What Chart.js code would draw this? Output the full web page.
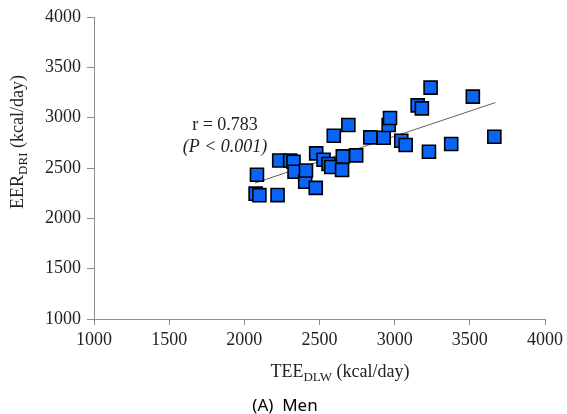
<!DOCTYPE html>
<html>
<head>
<meta charset="utf-8">
<script src="https://cdn.jsdelivr.net/npm/chart.js@4.4.1/dist/chart.umd.min.js"></script>
<style>
  html, body { margin: 0; padding: 0; background: #fff; }
  #wrap { width: 567px; height: 414px; }
</style>
</head>
<body>
<div id="wrap"><canvas id="chart" width="567" height="414"></canvas></div>
<script>
// TEE (DLW) vs EER (DRI), men
const teeDLW = [2084, 2075, 2100, 2221, 2232, 2305, 2327, 2334, 2405, 2410, 2475, 2478, 2527, 2560, 2578, 2655, 2650, 2744,
                2595, 2692, 2838, 2927, 2960, 2969, 3044, 3073, 3153, 3181, 3239, 3228, 3376, 3520, 3663];
const eerDRI = [2433, 2245, 2230, 2231, 2575, 2575, 2562, 2463, 2363, 2475, 2303, 2645, 2582, 2540, 2510, 2615, 2480, 2625,
                2820, 2927, 2804, 2801, 2927, 2997, 2771, 2728, 3122, 3092, 3298, 2662, 2738, 3209, 2811];

// trend line end points
const trendX = [2070, 3670];
const trendY = [2350, 3150];

const axisMin = 1000;
const axisMax = 4000;
const axisStep = 500;

const points = teeDLW.map((x, i) => ({ x: x, y: eerDRI[i] }));
const trend = trendX.map((x, i) => ({ x: x, y: trendY[i] }));

const serif = '"Liberation Serif", "Times New Roman", serif';

// axis titles with subscripts, r annotation and panel label
const textPlugin = {
    id: 'texts',
    afterDraw(chart) {
        const ctx = chart.ctx;
        const drawSub = (parts, cx, cy) => {
            // parts: [text, isSub]
            let w = 0;
            parts.forEach(p => {
                ctx.font = (p[1] ? '13px ' : '18px ') + serif;
                w += ctx.measureText(p[0]).width;
            });
            let x = cx - w / 2;
            parts.forEach(p => {
                ctx.font = (p[1] ? '13px ' : '18px ') + serif;
                ctx.fillText(p[0], x, p[1] ? cy + 4 : cy);
                x += ctx.measureText(p[0]).width;
            });
        };
        ctx.save();
        ctx.fillStyle = '#222';
        ctx.textBaseline = 'alphabetic';
        ctx.textAlign = 'left';
        drawSub([['TEE', false], ['DLW', true], [' (kcal/day)', false]], 340, 377);

        ctx.save();
        ctx.translate(23, 142);
        ctx.rotate(-Math.PI / 2);
        drawSub([['EER', false], ['DRI', true], [' (kcal/day)', false]], 0, 0);
        ctx.restore();

        ctx.textAlign = 'center';
        ctx.font = '18px ' + serif;
        ctx.fillText('r = 0.783', 225, 130);
        ctx.font = 'italic 18px ' + serif;
        ctx.fillText('(P < 0.001)', 225, 152);

        ctx.font = '17px "Noto Sans", sans-serif';
        ctx.fillStyle = '#000';
        ctx.fillText('(A)  Men', 285, 411);
        ctx.restore();
    }
};

const tickFont = { family: serif, size: 18 };
const plainTick = v => String(v);

new Chart(document.getElementById('chart'), {
    type: 'scatter',
    data: {
        datasets: [
            {
                type: 'scatter',
                data: points,
                pointStyle: 'rect',
                pointRadius: 9.2,
                pointHoverRadius: 9.2,
                backgroundColor: '#0a64f5',
                borderColor: '#000',
                borderWidth: 1.6,
                order: 1
            },
            {
                type: 'line',
                data: trend,
                borderColor: '#606060',
                borderWidth: 1,
                pointRadius: 0,
                fill: false,
                order: 2
            }
        ]
    },
    options: {
        responsive: false,
        animation: false,
        layout: { padding: { left: 0, right: 21, top: 17, bottom: 0 } },
        plugins: {
            legend: { display: false },
            tooltip: { enabled: false }
        },
        scales: {
            x: {
                type: 'linear',
                min: axisMin,
                max: axisMax,
                ticks: { stepSize: axisStep, color: '#222', font: tickFont, padding: 4, maxRotation: 0, callback: plainTick },
                grid: { display: true, drawOnChartArea: false, color: '#8c8c8c', tickLength: 6 },
                border: { color: '#8c8c8c', width: 1 },
                afterFit: scale => { scale.height = 95; }
            },
            y: {
                type: 'linear',
                min: axisMin,
                max: axisMax,
                ticks: { stepSize: axisStep, color: '#222', font: tickFont, padding: 6, callback: plainTick },
                grid: { display: true, drawOnChartArea: false, color: '#8c8c8c', tickLength: 7 },
                border: { color: '#8c8c8c', width: 1 },
                afterFit: scale => { scale.width = 94; }
            }
        }
    },
    plugins: [textPlugin]
});
</script>
</body>
</html>
